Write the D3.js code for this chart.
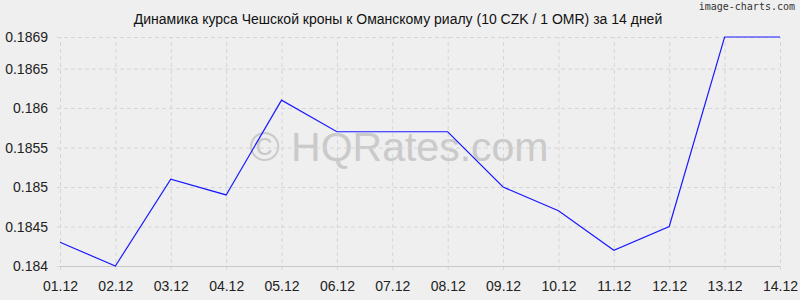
<!DOCTYPE html>
<html>
<head>
<meta charset="utf-8">
<script src="https://cdn.jsdelivr.net/npm/d3@7"></script>
<style>
  html, body { margin: 0; padding: 0; background: #efefef; }
  svg { display: block; }
</style>
</head>
<body>
<div id="chart"></div>
<script>
// CHART DATA
var dates = ['01.12', '02.12', '03.12', '04.12', '05.12', '06.12', '07.12',
             '08.12', '09.12', '10.12', '11.12', '12.12', '13.12', '14.12'];
var rates = [0.1843, 0.1840, 0.1851, 0.1849, 0.1861, 0.1857, 0.1857,
             0.1857, 0.1850, 0.1847, 0.1842, 0.1845, 0.1869, 0.1869];
var yTicks = [0.184, 0.1845, 0.185, 0.1855, 0.186, 0.1865, 0.1869];
var title = 'Динамика курса Чешской кроны к Оманскому риалу (10 CZK / 1 OMR) за 14 дней';

// SETTINGS
var settings = {
   width: 800,
   height: 300,
   margin: { top: 37, right: 20, bottom: 34, left: 60 },
   background: '#efefef',
   grid: '#d6d6d6',
   line: '#1a1aff',
   font: 'Arial, "Liberation Sans", sans-serif'
};

var innerW = settings.width - settings.margin.left - settings.margin.right;
var innerH = settings.height - settings.margin.top - settings.margin.bottom;

// X-SCALING
var xScale = d3.scalePoint()
   .domain(dates)
   .range([0, innerW])

// Y-SCALING
var yScale = d3.scaleLinear()
   .domain([d3.min(yTicks), d3.max(yTicks)])
   .range([innerH, 0])

// GENERATE CANVAS
var svg = d3.select('#chart').append('svg')
   .attr('width', settings.width)
   .attr('height', settings.height)
   .style('background', settings.background)

svg.append('rect')
   .attr('width', settings.width)
   .attr('height', settings.height)
   .attr('fill', settings.background)

var canvas = svg.append('g')
   .attr('transform', 'translate(' + settings.margin.left + ',' + settings.margin.top + ')')

// WATERMARK
canvas.append('text')
   .attr('x', innerW / 2 - 21)
   .attr('y', 124)
   .attr('text-anchor', 'middle')
   .attr('font-family', settings.font)
   .attr('font-size', 41)
   .attr('fill', '#cacaca')
   .text('© HQRates.com')

// Y AXIS / HORIZONTAL GRID
var yAxis = canvas.append('g')
   .call(d3.axisLeft(yScale)
      .tickValues(yTicks)
      .tickSize(-innerW - 3)
      .tickPadding(9)
      .tickFormat(d3.format('')))
   .attr('transform', 'translate(-3,0)')
yAxis.select('.domain').remove()
yAxis.selectAll('line')
   .attr('stroke', settings.grid)
   .attr('stroke-dasharray', '4,3')
yAxis.selectAll('text')
   .attr('font-family', settings.font)
   .attr('font-size', 14)
   .attr('fill', '#222')

// X AXIS / VERTICAL GRID
var xAxis = canvas.append('g')
   .attr('transform', 'translate(0,' + (innerH + 4) + ')')
   .call(d3.axisBottom(xScale)
      .tickSize(-innerH - 4)
      .tickPadding(11))
xAxis.select('.domain').remove()
xAxis.selectAll('line')
   .attr('stroke', settings.grid)
   .attr('stroke-dasharray', '4,3')
xAxis.selectAll('text')
   .attr('font-family', settings.font)
   .attr('font-size', 14)
   .attr('fill', '#222')

// BASELINE
canvas.append('line')
   .attr('x1', 0)
   .attr('x2', innerW)
   .attr('y1', yScale(d3.min(yTicks)) + 0.5)
   .attr('y2', yScale(d3.min(yTicks)) + 0.5)
   .attr('stroke', '#c8c8c8')

// GENERATE LINE PATH
var pathify = d3.line()
   .x((d, i) => { return xScale(dates[i]) })
   .y((d) => { return yScale(d) })

canvas.append('path')
   .attr('fill', 'none')
   .attr('stroke', settings.line)
   .attr('stroke-width', 1.2)
   .attr('d', pathify(rates))

// TITLE
svg.append('text')
   .attr('x', 398)
   .attr('y', 24)
   .attr('text-anchor', 'middle')
   .attr('font-family', settings.font)
   .attr('font-size', 14)
   .attr('fill', '#111')
   .text(title)

// BRANDING
svg.append('text')
   .attr('x', 795)
   .attr('y', 10)
   .attr('text-anchor', 'end')
   .attr('font-family', '"DejaVu Sans Mono", monospace')
   .attr('font-size', 10)
   .attr('fill', '#333')
   .text('image-charts.com')
</script>
</body>
</html>
